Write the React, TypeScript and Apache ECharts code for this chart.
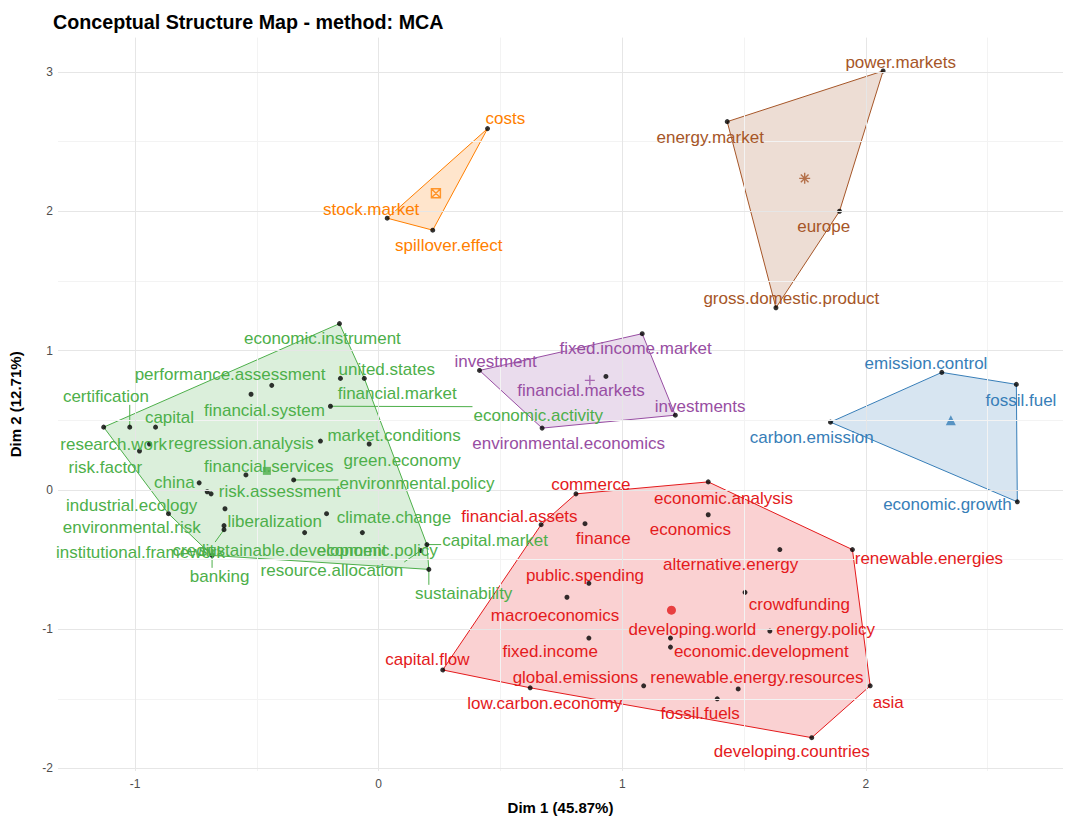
import React, { useEffect, useRef } from "react";
import * as echarts from "echarts";

// ---- data ----
const words = [
  // cluster 3 (green)
  "economic.instrument", "performance.assessment", "financial.system", "united.states", "financial.market",
  "economic.activity", "research.work", "certification", "capital", "regression.analysis", "risk.factor",
  "market.conditions", "green.economy", "financial.services", "environmental.policy", "china",
  "institutional.framework", "risk.assessment", "environmental.risk", "climate.change", "industrial.ecology",
  "liberalization", "credit", "sustainable.development", "economic.policy", "banking", "capital.market",
  "resource.allocation", "sustainability",
  // cluster 1 (red)
  "commerce", "financial.assets", "finance", "public.spending", "macroeconomics", "fixed.income",
  "developing.world", "economic.development", "economic.analysis", "economics", "alternative.energy",
  "renewable.energies", "crowdfunding", "energy.policy", "capital.flow", "low.carbon.economy",
  "global.emissions", "renewable.energy.resources", "fossil.fuels", "asia", "developing.countries",
  // cluster 4 (purple)
  "fixed.income.market", "investment", "financial.markets", "environmental.economics", "investments",
  // cluster 2 (blue)
  "emission.control", "fossil.fuel", "carbon.emission", "economic.growth",
  // cluster 5 (orange)
  "costs", "stock.market", "spillover.effect",
  // cluster 6 (brown)
  "power.markets", "energy.market", "europe", "gross.domestic.product",
];

const dim1 = [
  -0.161, -0.439, -0.524, -0.157, -0.059, -0.198, -1.129, -1.022, -0.916, -0.941, -0.982,
  -0.239, -0.039, -0.545, -0.349, -0.737, -0.704, -0.688, -0.631, -0.214, -0.863,
  -0.635, -0.635, -0.304, -0.067, -0.684, 0.198, 0.173, 0.206,
  0.81, 0.667, 0.847, 0.863, 0.773, 0.863, 1.198, 1.198, 1.353, 1.353, 1.647,
  1.945, 1.504, 1.606, 0.263, 0.622, 1.088, 1.476, 1.39, 2.018, 1.778,
  1.082, 0.414, 0.933, 0.671, 1.218,
  2.312, 2.618, 1.855, 2.622,
  0.447, 0.035, 0.222,
  2.071, 1.431, 1.892, 1.631,
];

const dim2 = [
  1.193, 0.75, 0.686, 0.8, 0.8, 0.6, 0.45, 0.45, 0.45, 0.329, 0.279,
  0.35, 0.329, 0.107, 0.071, 0.05, -0.014, -0.029, -0.136, -0.171, -0.171,
  -0.257, -0.286, -0.307, -0.307, -0.471, -0.393, -0.436, -0.571,
  -0.029, -0.25, -0.243, -0.671, -0.771, -1.064, -1.064, -1.129, 0.057, -0.179, -0.429,
  -0.429, -0.736, -1.014, -1.293, -1.421, -1.407, -1.429, -1.5, -1.407, -1.779,
  1.121, 0.857, 0.814, 0.443, 0.536,
  0.843, 0.757, 0.486, -0.086,
  2.593, 1.95, 1.864,
  3.007, 2.643, 2.0, 1.307,
];

const cluster = [
  3, 3, 3, 3, 3, 3, 3, 3, 3, 3, 3, 3, 3, 3, 3, 3, 3, 3, 3, 3, 3, 3, 3, 3, 3, 3, 3, 3, 3,
  1, 1, 1, 1, 1, 1, 1, 1, 1, 1, 1, 1, 1, 1, 1, 1, 1, 1, 1, 1, 1,
  4, 4, 4, 4, 4,
  2, 2, 2, 2,
  5, 5, 5,
  6, 6, 6, 6,
];

// where each word's text sits (data units)
const labelDim1 = [
  -0.231, -0.61, -0.469, 0.033, 0.076, 0.655, -1.088, -1.12, -0.859, -0.565, -1.122,
  0.063, 0.096, -0.451, 0.157, -0.839, -0.978, -0.406, -1.014, 0.063, -1.014,
  -0.427, -0.761, -0.353, -0.006, -0.653, 0.478, -0.192, 0.349,
  0.871, 0.578, 0.922, 0.847, 0.724, 0.704, 1.288, 1.571, 1.416, 1.28, 1.445,
  2.259, 1.727, 1.835, 0.2, 0.682, 0.808, 1.553, 1.32, 2.092, 1.696,
  1.055, 0.48, 0.831, 0.78, 1.32,
  2.247, 2.637, 1.778, 2.335,
  0.52, -0.031, 0.288,
  2.143, 1.361, 1.827, 1.694,
];

const labelDim2 = [
  1.086, 0.829, 0.571, 0.864, 0.693, 0.536, 0.329, 0.671, 0.521, 0.336, 0.157,
  0.393, 0.214, 0.171, 0.043, 0.05, -0.45, -0.014, -0.271, -0.2, -0.114,
  -0.229, -0.436, -0.436, -0.436, -0.621, -0.364, -0.579, -0.743,
  0.036, -0.193, -0.35, -0.614, -0.9, -1.164, -1.0, -1.164, -0.064, -0.286, -0.536,
  -0.493, -0.821, -1.0, -1.221, -1.536, -1.35, -1.35, -1.607, -1.529, -1.879,
  1.014, 0.921, 0.714, 0.336, 0.6,
  0.907, 0.643, 0.379, -0.107,
  2.664, 2.014, 1.757,
  3.064, 2.529, 1.893, 1.371,
];

const clusterIds = [1, 2, 3, 4, 5, 6];
const centroidDim1 = [1.202, 2.349, -0.459, 0.867, 0.235, 1.749];
const centroidDim2 = [-0.864, 0.5, 0.136, 0.786, 2.129, 2.236];

const segmentWords = [
  "certification", "economic.activity", "environmental.policy", "capital.market",
  "sustainability", "resource.allocation", "credit", "banking",
];

const xTicks = [-1, 0, 1, 2];
const yTicks = [-2, -1, 0, 1, 2, 3];
const xMinor = [-0.5, 0.5, 1.5, 2.5];
const yMinor = [-1.5, -0.5, 0.5, 1.5, 2.5];

// ---- styles ----
const clusterColors = ["#E41A1C", "#377EB8", "#4DAF4A", "#984EA3", "#FF7F00", "#A65628"];
const clusterFills = [
  "rgba(228,26,28,0.2)", "rgba(55,126,184,0.2)", "rgba(77,175,74,0.2)",
  "rgba(152,78,163,0.2)", "rgba(255,127,0,0.2)", "rgba(166,86,40,0.2)",
];
const FONT = '"Liberation Sans", Arial, sans-serif';
const LABEL_SIZE = 17;

function hull(pts: number[][]): number[][] {
  const p = pts.slice().sort((a, b) => (a[0] - b[0]) || (a[1] - b[1]));
  if (p.length < 3) return p;
  const cross = (o: number[], a: number[], b: number[]) =>
    (a[0] - o[0]) * (b[1] - o[1]) - (a[1] - o[1]) * (b[0] - o[0]);
  const lower: number[][] = [];
  for (const q of p) {
    while (lower.length >= 2 && cross(lower[lower.length - 2], lower[lower.length - 1], q) <= 0) lower.pop();
    lower.push(q);
  }
  const upper: number[][] = [];
  for (let i = p.length - 1; i >= 0; i--) {
    const q = p[i];
    while (upper.length >= 2 && cross(upper[upper.length - 2], upper[upper.length - 1], q) <= 0) upper.pop();
    upper.push(q);
  }
  upper.pop();
  lower.pop();
  return lower.concat(upper);
}

export default function App() {
  const ref = useRef<HTMLDivElement>(null);

  useEffect(() => {
    if (!ref.current) return;
    const chart = echarts.init(ref.current, undefined, { renderer: "svg" });

    const minX = Math.min(...dim1), maxX = Math.max(...dim1);
    const minY = Math.min(...dim2), maxY = Math.max(...dim2);
    const ex = (maxX - minX) * 0.05, ey = (maxY - minY) * 0.05;

    const hulls = clusterIds.map((c) =>
      hull(dim1.map((x, i) => [x, dim2[i], cluster[i]]).filter((d) => d[2] === c).map((d) => [d[0], d[1]]))
    );

    const canvas = document.createElement("canvas");
    const ctx = canvas.getContext("2d")!;
    ctx.font = `${LABEL_SIZE}px ${FONT}`;

    const segData = segmentWords.map((w) => {
      const i = words.indexOf(w);
      return [dim1[i], dim2[i], labelDim1[i], labelDim2[i], ctx.measureText(w).width, cluster[i]];
    });

    const plusPath = "path://M4 0L4 8M0 4L8 4";
    const squareCross = "path://M0 0L8 0L8 8L0 8ZM0 0L8 8M0 8L8 0";
    const asterisk = "path://M4 0L4 8M0 4L8 4M1.2 1.2L6.8 6.8M1.2 6.8L6.8 1.2";
    const centroidSymbols = ["circle", "triangle", "rect", plusPath, squareCross, asterisk];
    const centroidSizes = [9, 10, 8, 10, 9, 11];
    const filled = [true, true, true, false, false, false];

    const centroidSeries = clusterIds.map((c, k) => ({
      type: "scatter",
      z: 4,
      symbol: centroidSymbols[k],
      symbolSize: centroidSizes[k],
      data: [[centroidDim1[k], centroidDim2[k]]],
      itemStyle: filled[k]
        ? { color: clusterColors[k] }
        : { color: "none", borderColor: clusterColors[k], borderWidth: 1.4 },
      silent: true,
    }));

    const option: any = {
      animation: false,
      backgroundColor: "#ffffff",
      title: {
        text: "Conceptual Structure Map - method: MCA",
        left: 53,
        top: 12,
        padding: 0,
        textStyle: { fontFamily: FONT, fontSize: 19.7, fontWeight: "bold", color: "#000" },
      },
      grid: { left: 52, right: 2, top: 37.6, bottom: 45.5, containLabel: false },
      xAxis: {
        type: "value",
        min: minX - ex,
        max: maxX + ex,
        name: "Dim 1 (45.87%)",
        nameLocation: "middle",
        nameGap: 29,
        nameTextStyle: { fontFamily: FONT, fontSize: 15, fontWeight: "bold", color: "#000" },
        axisLine: { show: false },
        axisTick: { show: false },
        splitLine: { show: false },
        axisLabel: { customValues: xTicks, color: "#4D4D4D", fontSize: 12, fontFamily: FONT, margin: 7 },
      },
      yAxis: {
        type: "value",
        min: minY - ey,
        max: maxY + ey,
        name: "Dim 2 (12.71%)",
        nameLocation: "middle",
        nameGap: 35,
        nameTextStyle: { fontFamily: FONT, fontSize: 15, fontWeight: "bold", color: "#000" },
        axisLine: { show: false },
        axisTick: { show: false },
        splitLine: { show: false },
        axisLabel: { customValues: yTicks, color: "#4D4D4D", fontSize: 12, fontFamily: FONT, margin: 5 },
      },
      series: [
        {
          type: "line",
          data: [],
          silent: true,
          z: 0,
          markLine: {
            silent: true,
            symbol: ["none", "none"],
            label: { show: false },
            animation: false,
            data: [
              ...xMinor.map((v) => ({ xAxis: v, lineStyle: { color: "#F3F3F3", width: 1, type: "solid" } })),
              ...yMinor.map((v) => ({ yAxis: v, lineStyle: { color: "#F3F3F3", width: 1, type: "solid" } })),
              ...xTicks.map((v) => ({ xAxis: v, lineStyle: { color: "#E6E6E6", width: 1, type: "solid" } })),
              ...yTicks.map((v) => ({ yAxis: v, lineStyle: { color: "#E6E6E6", width: 1, type: "solid" } })),
            ],
          },
        },
        {
          type: "custom",
          z: 1,
          silent: true,
          data: clusterIds.map((c, k) => [centroidDim1[k], centroidDim2[k], k]),
          renderItem: (params: any, api: any) => {
            const k = params.dataIndex;
            const pts = hulls[k].map((p) => api.coord(p));
            return {
              type: "polygon",
              shape: { points: pts },
              style: { fill: clusterFills[k], stroke: clusterColors[k], lineWidth: 1 },
            };
          },
        },
        {
          type: "custom",
          z: 2,
          silent: true,
          data: segData,
          renderItem: (params: any, api: any) => {
            const p = api.coord([api.value(0), api.value(1)]);
            const l = api.coord([api.value(2), api.value(3)]);
            const hw = api.value(4) / 2 + 1;
            const hh = LABEL_SIZE / 2;
            const cx = Math.max(l[0] - hw, Math.min(p[0], l[0] + hw));
            const cy = Math.max(l[1] - hh, Math.min(p[1], l[1] + hh));
            const k = api.value(5) - 1;
            return {
              type: "line",
              shape: { x1: p[0], y1: p[1], x2: cx, y2: cy },
              style: { stroke: clusterColors[k], lineWidth: 1 },
            };
          },
        },
        {
          type: "scatter",
          z: 3,
          symbolSize: 5,
          silent: true,
          itemStyle: { color: "#000" },
          data: dim1.map((x, i) => [x, dim2[i]]),
        },
        ...centroidSeries,
        {
          type: "custom",
          z: 5,
          silent: true,
          data: labelDim1.map((x, i) => [x, labelDim2[i], i]),
          renderItem: (params: any, api: any) => {
            const i = params.dataIndex;
            const p = api.coord([api.value(0), api.value(1)]);
            return {
              type: "text",
              x: p[0],
              y: p[1],
              style: {
                text: words[i],
                fill: clusterColors[cluster[i] - 1],
                fontSize: LABEL_SIZE,
                fontFamily: FONT,
                align: "center",
                verticalAlign: "middle",
              },
            };
          },
        },
      ],
    };

    chart.setOption(option);
    return () => chart.dispose();
  }, []);

  return (
    <div
      ref={ref}
      style={{ position: "absolute", left: 0, top: 0, width: 1065, height: 820, background: "#fff" }}
    />
  );
}
